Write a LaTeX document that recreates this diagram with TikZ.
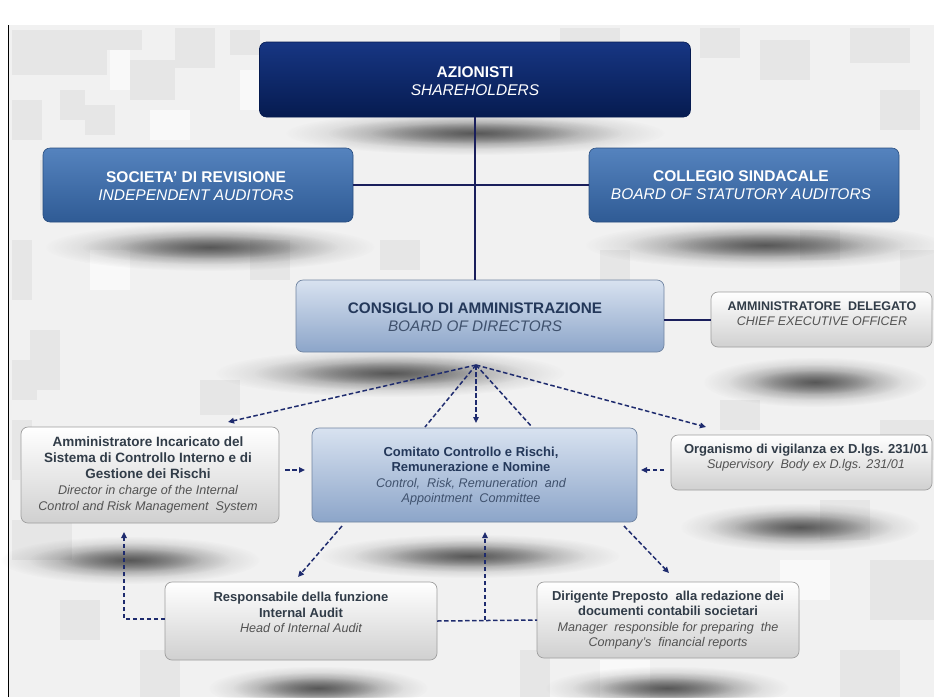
\documentclass[tikz,border=0pt]{standalone}
\usepackage{fontspec}
\setmainfont{Liberation Sans}
\usetikzlibrary{arrows.meta,fadings}
\definecolor{navyA}{HTML}{173683}
\definecolor{navyB}{HTML}{061B50}
\definecolor{midA}{HTML}{5583BE}
\definecolor{midB}{HTML}{2F5B95}
\definecolor{lbA}{HTML}{D8E2F0}
\definecolor{lbB}{HTML}{8CA5C9}
\definecolor{wB}{HTML}{D0D0D0}
\definecolor{lineC}{HTML}{1A1F5C}
\definecolor{dashC}{HTML}{1E2B6E}
\definecolor{bgC}{HTML}{F1F1F1}
\definecolor{sqD}{HTML}{E6E6E6}
\definecolor{sqL}{HTML}{F9F9F9}
\definecolor{txDark}{HTML}{313C48}
\definecolor{txGrey}{HTML}{525252}
\definecolor{txBlue}{HTML}{24385A}
\definecolor{txBlueI}{HTML}{3F516D}
\tikzfading[name=shfade, inner color=transparent!0, outer color=transparent!100]
\newcommand{\myItal}[1]{{\itshape\fontsize{12.6}{15.5}\selectfont #1}}
\newcommand{\myShadow}[4]{%
  \fill[shadowel] (#1,#2) ellipse [x radius=#3pt, y radius=#4pt];
  \fill[shadowel] (#1,#2) ellipse [x radius={0.78*#3pt}, y radius={0.72*#4pt}];
  \fill[shadowel] (#1,#2) ellipse [x radius={0.55*#3pt}, y radius={0.48*#4pt}];}
\begin{document}
\begin{tikzpicture}[x=1pt,y=-1pt,
  box/.style={rounded corners=7pt, inner sep=0pt, outer sep=0pt},
  navybox/.style={box, top color=navyA, bottom color=navyB, draw=navyB, line width=0.6pt},
  midbox/.style={box, top color=midA, bottom color=midB, draw=midB!85!black, line width=0.6pt},
  lbbox/.style={box, top color=lbA, bottom color=lbB, draw=lbB!80!black, line width=0.7pt},
  wbox/.style={box, top color=white, middle color=white!95!black, bottom color=wB, draw=black!38, line width=0.7pt},
  toptext/.style={font=\fontsize{15.5}{18}\selectfont, text=white, align=center, inner sep=0pt},
  cdatext/.style={font=\fontsize{15.3}{18}\selectfont, align=center, inner sep=0pt},
  lowtext/.style={font=\fontsize{13}{15.5}\selectfont, align=center, inner sep=0pt},
  shadowel/.style={fill=black!80, fill opacity=0.42, path fading=shfade},
  conn/.style={draw=lineC, line width=1.5pt},
  dashconn/.style={draw=dashC, line width=1.5pt, dash pattern=on 4.5pt off 2.5pt},
  arr/.style={-{Triangle[length=6pt,width=5.5pt]}}
]
\useasboundingbox (0,0) rectangle (934,697);
% background
\fill[white] (0,0) rectangle (934,697);
\fill[bgC] (9,25) rectangle (934,697);
\foreach \a/\b/\w/\h in {12/30/95/45, 107/30/35/20, 175/28/40/40, 130/60/45/40, 12/100/30/40,
  60/90/25/30, 85/105/30/30, 12/240/20/60, 30/330/30/60, 12/420/20/60, 230/30/30/25,
  700/28/40/30, 760/40/50/40, 850/28/60/35, 880/90/40/40, 800/230/40/30, 900/250/34/60,
  12/520/60/40, 820/500/50/40, 870/560/64/60, 760/610/40/40, 840/650/60/47, 520/650/30/47,
  140/650/40/47, 60/600/40/40, 600/250/30/30, 250/240/40/40, 560/28/60/30, 40/160/30/50,
  200/380/40/35, 720/400/40/30, 880/420/54/40, 12/360/25/40, 380/240/40/30}
  {\fill[sqD] (\a,\b) rectangle ++(\w,\h);}
\foreach \a/\b/\w/\h in {110/50/20/40, 240/70/20/40, 150/110/40/30, 640/60/40/30, 20/470/30/40,
  780/560/50/40, 600/660/50/37, 90/250/40/40}
  {\fill[sqL] (\a,\b) rectangle ++(\w,\h);}
\draw[black, line width=1.2pt] (8.5,25) -- (8.5,697);
% shadows
\myShadow{475}{133}{190}{22}
\myShadow{210}{247}{165}{24}
\myShadow{765}{245}{180}{24}
\myShadow{390}{373}{175}{24}
\myShadow{815}{382}{112}{25}
\myShadow{130}{560}{130}{24}
\myShadow{470}{556}{150}{22}
\myShadow{800}{527}{120}{24}
\myShadow{318}{688}{110}{22}
\myShadow{667}{688}{122}{22}
% boxes
\node[navybox, minimum width=431pt, minimum height=75pt] (az) at (475,79.5) {};
\node[midbox, minimum width=310pt, minimum height=74pt] (soc) at (198,185) {};
\node[midbox, minimum width=310pt, minimum height=74pt] (col) at (744,185) {};
\node[lbbox, minimum width=368pt, minimum height=72pt] (cda) at (480,316) {};
\node[wbox, minimum width=221pt, minimum height=55pt] (ad) at (821.5,319.5) {};
\node[wbox, minimum width=258pt, minimum height=96pt] (aic) at (150,475) {};
\node[lbbox, minimum width=325pt, minimum height=94pt] (ccr) at (474.5,475) {};
\node[wbox, minimum width=261pt, minimum height=55pt] (odv) at (801.5,462.5) {};
\node[wbox, minimum width=272pt, minimum height=78pt] (ia) at (301,621) {};
\node[wbox, minimum width=262pt, minimum height=76pt] (dp) at (668,620) {};
% texts
\node[toptext] (azt) at (475,81) {\textbf{AZIONISTI}\\\textit{SHAREHOLDERS}};
\node[toptext] (soct) at (196,186) {\textbf{SOCIETA’ DI REVISIONE}\\\textit{INDEPENDENT AUDITORS}};
\node[toptext] (colt) at (741,185) {\textbf{COLLEGIO SINDACALE}\\\textit{BOARD OF STATUTORY AUDITORS}};
\node[cdatext] (cdat) at (475,317) {\textcolor{txBlue}{\textbf{CONSIGLIO DI AMMINISTRAZIONE}}\\\textcolor{txBlueI}{\textit{BOARD OF DIRECTORS}}};
\node[lowtext, font=\fontsize{12.5}{15}\selectfont] (adt) at (822,314) {\textcolor{txDark}{\textbf{AMMINISTRATORE\ \ DELEGATO}}\\\textcolor{txGrey}{\textit{CHIEF EXECUTIVE OFFICER}}};
\node[lowtext, font=\fontsize{13.5}{15.8}\selectfont] (aict) at (148,475) {\textcolor{txDark}{\textbf{Amministratore Incaricato del}}\\\textcolor{txDark}{\textbf{Sistema di Controllo Interno e di}}\\\textcolor{txDark}{\textbf{Gestione dei Rischi}}\\\textcolor{txGrey}{\myItal{Director in charge of the Internal}}\\\textcolor{txGrey}{\myItal{Control and Risk Management\ \ System}}};
\node[lowtext] (ccrt) at (471,476) {\textcolor{txBlue}{\textbf{Comitato Controllo e Rischi,}}\\\textcolor{txBlue}{\textbf{Remunerazione e Nomine}}\\\textcolor{txBlueI}{\myItal{Control,\ \ Risk, Remuneration\ \ and}}\\\textcolor{txBlueI}{\myItal{Appointment\ \ Committee}}};
\node[lowtext] (odvt) at (806,457.5) {\textcolor{txDark}{\textbf{Organismo di vigilanza ex D.lgs. 231/01}}\\\textcolor{txGrey}{\myItal{Supervisory\ \ Body ex D.lgs. 231/01}}};
\node[lowtext] (iat) at (301,612.5) {\textcolor{txDark}{\textbf{Responsabile della funzione}}\\\textcolor{txDark}{\textbf{Internal Audit}}\\\textcolor{txGrey}{\myItal{Head of Internal Audit}}};
\node[lowtext] (dpt) at (668,620) {\textcolor{txDark}{\textbf{Dirigente Preposto\ \ alla redazione dei}}\\\textcolor{txDark}{\textbf{documenti contabili societari}}\\\textcolor{txGrey}{\myItal{Manager\ \ responsible for preparing\ \ the}}\\\textcolor{txGrey}{\myItal{Company’s\ \ financial reports}}};
% solid connectors
\draw[conn] (az.south) -- (az.south |- cda.north);
\draw[conn] (soc.east) -- (col.west);
\draw[conn, line width=2pt] (cda.east |- ad.west) -- (ad.west);
% dashed connectors from the board
\coordinate (apex) at (476,365);
\coordinate (tL) at (228,422);
\coordinate (tM) at (476,423);
\coordinate (tR) at (706,427);
\coordinate (dL) at (425,427);
\coordinate (dR) at (532,427);
\draw[dashconn, arr] (apex) -- (tL);
\draw[dashconn, arr] (apex) -- (tM);
\draw[dashconn, arr] (apex) -- (tR);
\draw[dashconn] (apex) -- (dL);
\draw[dashconn] (apex) -- (dR);
% side arrows into the committee
\draw[dashconn, arr, shorten <=6pt, shorten >=7pt] ([yshift=5pt]aic.east) -- ([yshift=5pt]aic.east -| ccr.west);
\draw[dashconn, arr, shorten <=7pt, shorten >=4pt] ([yshift=-7.5pt]odv.west) -- ([yshift=-7.5pt]odv.west -| ccr.east);
% committee to the lower boxes
\coordinate (c1) at (342,526);
\coordinate (c2) at (298,577);
\coordinate (c3) at (624,526);
\coordinate (c4) at (669,573);
\draw[dashconn, arr] (c1) -- (c2);
\draw[dashconn, arr] (c3) -- (c4);
% lower feedback lines
\draw[dashconn, arr] ([yshift=2pt]ia.west) -| ([xshift=-26pt, yshift=-9pt]aic.south);
\draw[dashconn] (ia.east) -- (dp.west);
\coordinate (jn) at (485,620);
\draw[dashconn, arr, shorten >=10pt] (jn) -- (jn |- ccr.south);
\end{tikzpicture}
\end{document}
